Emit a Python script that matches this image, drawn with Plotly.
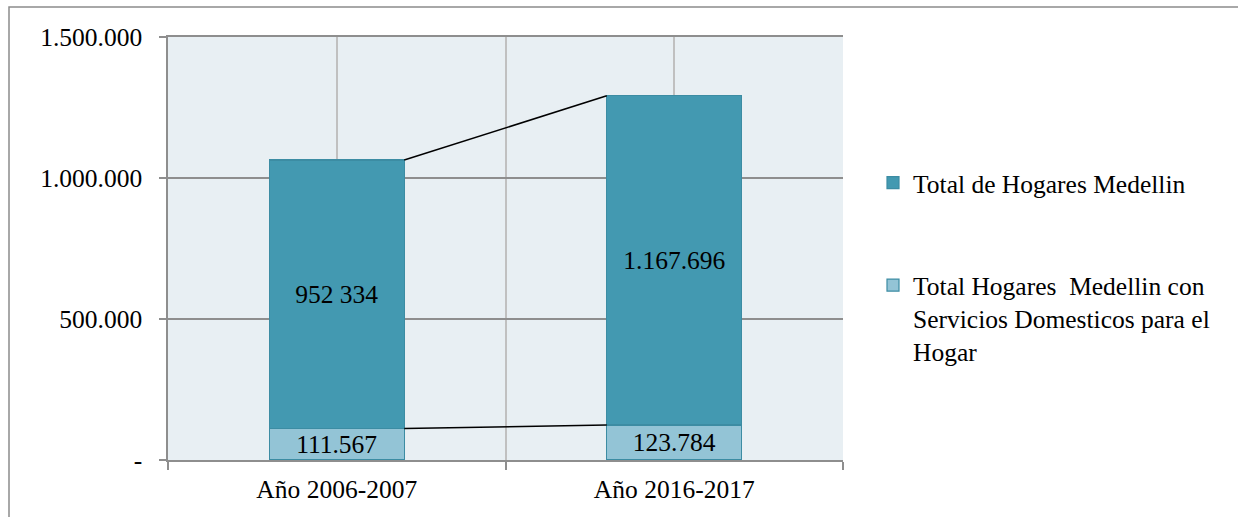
import plotly.graph_objects as go

categories = ["Año 2006-2007", "Año 2016-2017"]
servicios = [111567, 123784]
servicios_labels = ["111.567", "123.784"]
total_hogares = [952334, 1167696]
total_labels = ["952 334", "1.167.696"]
name_total = "Total de Hogares Medellin"
name_serv = "Total Hogares  Medellin con<br>Servicios Domesticos para el<br>Hogar"
y_ticks = [0, 500000, 1000000, 1500000]
y_ticktext = ["-", "500.000", "1.000.000", "1.500.000"]

FONT = "Liberation Serif, Times New Roman, serif"
FS = 25.5
xpos = list(range(len(categories)))
bw = 0.4

fig = go.Figure()
fig.add_trace(go.Bar(
    x=xpos, y=servicios, width=bw, name=name_serv, legend="legend2",
    marker=dict(color="#93C4D6", line=dict(color="#3C8CA3", width=1.2)),
    text=servicios_labels, textposition="inside", insidetextanchor="middle",
    constraintext="none", textfont=dict(family=FONT, size=FS, color="black"),
    hoverinfo="skip",
))
fig.add_trace(go.Bar(
    x=xpos, y=total_hogares, width=bw, name=name_total, legend="legend",
    marker=dict(color="#4399B1", line=dict(color="#3C8CA3", width=1.2)),
    text=total_labels, textposition="inside", insidetextanchor="middle",
    constraintext="none", textfont=dict(family=FONT, size=FS, color="black"),
    hoverinfo="skip",
))

# series lines (Excel-style) connecting stacked segment tops
tops = [s + t for s, t in zip(servicios, total_hogares)]
for vals in (servicios, tops):
    fig.add_trace(go.Scatter(
        x=[xpos[0] + bw / 2, xpos[1] - bw / 2], y=vals, mode="lines",
        line=dict(color="black", width=1.5), showlegend=False, hoverinfo="skip",
    ))

L, R, T, B = 168, 1238 - 843, 37, 517 - 460
pw, ph = 1238 - L - R, 517 - T - B

fig.update_layout(
    width=1238, height=517, barmode="stack",
    margin=dict(l=L, r=R, t=T, b=B, pad=0),
    paper_bgcolor="white", plot_bgcolor="#E8EFF3",
    font=dict(family=FONT, size=FS, color="black"),
    showlegend=True,
    legend=dict(x=(873 - L) / pw, xanchor="left", y=(460 - 183) / ph, yanchor="middle",
                font=dict(family=FONT, size=FS), bgcolor="rgba(0,0,0,0)", valign="top"),
    legend2=dict(x=(873 - L) / pw, xanchor="left", y=(460 - 262) / ph, yanchor="top",
                 font=dict(family=FONT, size=FS), bgcolor="rgba(0,0,0,0)", valign="top"),
    xaxis=dict(
        range=[-0.5, 1.5], tickvals=xpos, ticktext=categories, ticks="",
        showgrid=True, gridcolor="#C0C0C0", gridwidth=1.5,
        showline=True, linecolor="#8E8E8E", linewidth=1.5, mirror=True,
        tickfont=dict(family=FONT, size=FS), zeroline=False, ticklabelstandoff=6,
        minor=dict(tickvals=[-0.5, 0.5, 1.5], ticks="outside", ticklen=8,
                   tickcolor="#8E8E8E", tickwidth=1.5,
                   showgrid=True, gridcolor="#C0C0C0", gridwidth=1.5),
    ),
    yaxis=dict(
        range=[0, 1500000], tickvals=y_ticks, ticktext=y_ticktext,
        ticks="outside", ticklen=7, tickcolor="#8E8E8E", tickwidth=1.5,
        showgrid=True, gridcolor="#8E8E8E", gridwidth=1.5,
        showline=True, linecolor="#8E8E8E", linewidth=1.5, zeroline=False,
        tickfont=dict(family=FONT, size=FS), ticklabelstandoff=12,
    ),
    shapes=[dict(type="rect", xref="paper", yref="paper",
                 x0=(9 - L) / pw, x1=(1300 - L) / pw,
                 y0=(460 - 560) / ph, y1=(460 - 7) / ph,
                 line=dict(color="#8C8C8C", width=1.5), fillcolor="rgba(0,0,0,0)",
                 layer="below")],
)

fig.write_html(
    "out.html",
    config={"displayModeBar": False},
    post_script="document.body.style.margin='0';document.body.style.overflow='hidden';",
)
